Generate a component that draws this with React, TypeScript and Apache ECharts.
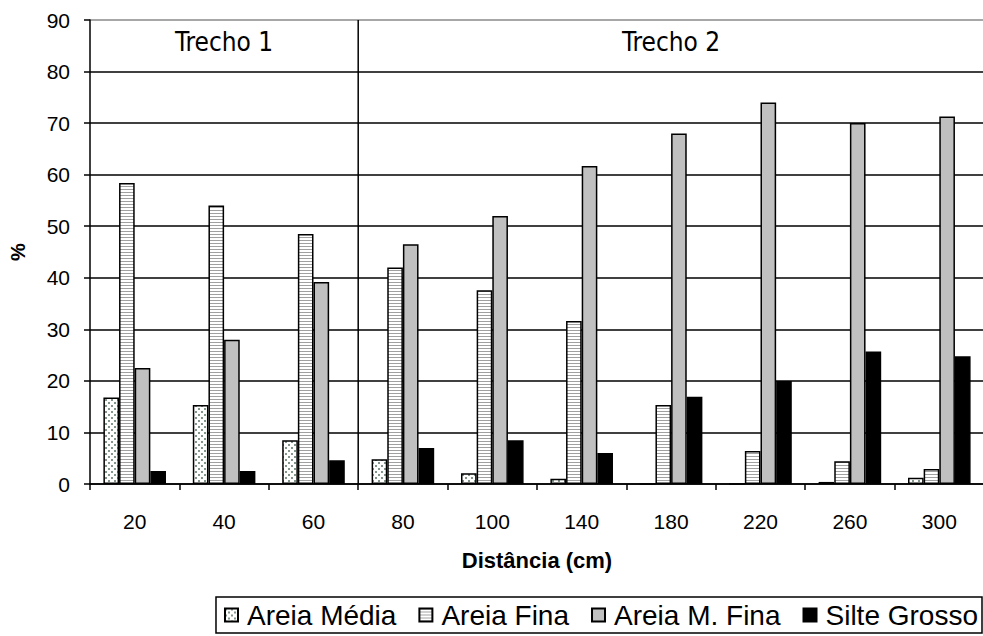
import React, { useEffect, useRef } from 'react';
import * as echarts from 'echarts';

const categories = ['20', '40', '60', '80', '100', '140', '180', '220', '260', '300'];
const areiaMedia = [16.8, 15.3, 8.5, 4.8, 2.1, 1.0, 0, 0, 0.4, 1.2];
const areiaFina = [58.4, 54.0, 48.5, 42.0, 37.6, 31.6, 15.3, 6.4, 4.4, 2.9];
const areiaMFina = [22.5, 28.0, 39.2, 46.5, 52.0, 61.7, 68.0, 74.0, 70.0, 71.3];
const silteGrosso = [2.5, 2.5, 4.6, 7.0, 8.5, 6.0, 16.9, 20.0, 25.7, 24.8];
const seriesNames = ['Areia Média', 'Areia Fina', 'Areia M. Fina', 'Silte Grosso'];
const sections = [
  { label: 'Trecho 1', from: '20', to: '60' },
  { label: 'Trecho 2', from: '80', to: '300' },
];

const FONT = "'Liberation Sans', Arial, sans-serif";

function dotsPattern(): HTMLCanvasElement {
  const c = document.createElement('canvas');
  c.width = 6;
  c.height = 6;
  const g = c.getContext('2d')!;
  g.fillStyle = '#ffffff';
  g.fillRect(0, 0, 6, 6);
  g.fillStyle = '#84968a';
  g.fillRect(0, 0, 2, 2);
  g.fillRect(3, 3, 2, 2);
  return c;
}

function stripesPattern(): HTMLCanvasElement {
  const c = document.createElement('canvas');
  c.width = 4;
  c.height = 3;
  const g = c.getContext('2d')!;
  g.fillStyle = '#ffffff';
  g.fillRect(0, 0, 4, 3);
  g.fillStyle = '#a0a0a0';
  g.fillRect(0, 0, 4, 1);
  return c;
}

export default function App() {
  const ref = useRef<HTMLDivElement>(null);

  useEffect(() => {
    if (!ref.current) return;
    const chart = echarts.init(ref.current, null, { renderer: 'svg' });
    const fills: any[] = [
      { image: dotsPattern(), repeat: 'repeat' },
      { image: stripesPattern(), repeat: 'repeat' },
      '#c0c0c0',
      '#000000',
    ];
    const datas = [areiaMedia, areiaFina, areiaMFina, silteGrosso];
    const splitColors = ['#000', '#000', '#000', '#000', '#000', '#000', '#000', '#000', '#000', '#8a8a8a'];

    chart.setOption({
      animation: false,
      backgroundColor: '#ffffff',
      textStyle: { fontFamily: FONT, color: '#000' },
      grid: { left: 90, top: 20, right: -1, bottom: 152, containLabel: false, outerBoundsMode: 'none' },
      legend: {
        right: 1,
        top: 597,
        orient: 'horizontal',
        data: seriesNames,
        itemWidth: 13,
        itemHeight: 13,
        itemGap: 22,
        padding: [4, 4, 4, 8],
        borderColor: '#000',
        borderWidth: 1.5,
        backgroundColor: '#fff',
        icon: 'rect',
        textStyle: { fontFamily: FONT, fontSize: 28, color: '#000', padding: [0, 0, 0, 4] },
      },
      xAxis: {
        type: 'category',
        data: categories,
        name: 'Distância (cm)',
        nameLocation: 'middle',
        nameGap: 65,
        nameTextStyle: { fontFamily: FONT, fontSize: 22, fontWeight: 'bold', color: '#000' },
        axisLine: { show: true, lineStyle: { color: '#000', width: 1.5 } },
        axisTick: { show: true, alignWithLabel: false, length: 6, lineStyle: { color: '#000', width: 1.5 } },
        axisLabel: { fontFamily: FONT, fontSize: 21, color: '#000', margin: 27 },
        splitLine: { show: false },
      },
      yAxis: {
        type: 'value',
        min: 0,
        max: 90,
        interval: 10,
        name: '%',
        nameLocation: 'middle',
        nameGap: 62,
        nameRotate: 90,
        nameTextStyle: { fontFamily: FONT, fontSize: 20, fontWeight: 'bold', color: '#000' },
        axisLine: { show: true, lineStyle: { color: '#000', width: 1.5 } },
        axisTick: { show: true, length: 6, lineStyle: { color: '#000', width: 1.5 } },
        axisLabel: { fontFamily: FONT, fontSize: 21, color: '#000', margin: 20 },
        splitLine: { show: true, lineStyle: { color: splitColors, width: 1.5 } },
      },
      series: seriesNames.map((name, i) => ({
        name,
        type: 'bar',
        data: datas[i],
        barGap: '0%',
        barCategoryGap: '30%',
        itemStyle: { color: fills[i], borderColor: '#000', borderWidth: 1.5 },
      })),
    });

    const px = (c: string) => chart.convertToPixel({ xAxisIndex: 0 }, c) as number;
    const step = px(categories[1]) - px(categories[0]);
    const yTop = chart.convertToPixel({ yAxisIndex: 0 }, 90) as number;
    const yBottom = chart.convertToPixel({ yAxisIndex: 0 }, 0) as number;
    const graphics: any[] = [];
    sections.forEach((s, i) => {
      const x0 = px(s.from) - step / 2;
      const x1 = px(s.to) + step / 2;
      graphics.push({
        type: 'text',
        x: (x0 + x1) / 2,
        y: yTop + 22,
        style: {
          text: s.label,
          fill: '#000',
          font: `26px 'Liberation Sans Narrow', 'DejaVu Sans Condensed', 'Liberation Sans', sans-serif`,
          align: 'center',
          verticalAlign: 'middle',
        },
      });
      if (i > 0) {
        graphics.push({
          type: 'line',
          shape: { x1: x0, y1: yTop, x2: x0, y2: yBottom },
          style: { stroke: '#000', lineWidth: 1.5 },
        });
      }
    });
    chart.setOption({ graphic: graphics });

    return () => chart.dispose();
  }, []);

  return (
    <div
      ref={ref}
      style={{ position: 'fixed', left: 0, top: 0, width: 983, height: 636, background: '#fff' }}
    />
  );
}
